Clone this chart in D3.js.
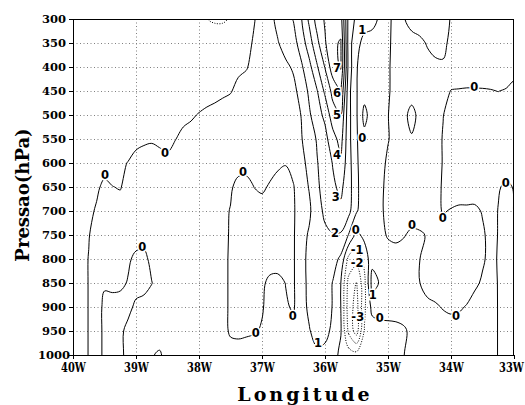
<!DOCTYPE html>
<html><head><meta charset="utf-8">
<script src="https://cdn.jsdelivr.net/npm/d3@7"></script>
<style>body{margin:0;background:#fff}svg{display:block}</style>
</head><body>
<svg id="c" width="525" height="405"></svg>
<script>
// ---------- data ----------
const lonFirst = -40, lonLast = -33;           // grid columns every 0.125 deg
const pressureLevels = [300,350,400,450,500,550,600,650,700,750,800,850,900,950,1000];
const p300 = [-0.45,-0.5,-0.5,-0.5,-0.5,-0.5,-0.5,-0.55,-0.6,-0.6,-0.65,-0.65,-0.7,-0.7,-0.75,-0.8,-0.85,-0.98,-1.15,-1.15,-0.9,-0.6,-0.3,-0.05,0.37,0.78,1.2,1.6,2.05,2.95,4.2,5.4,6.1,6.4,6.5,2.6,1.8,1.3,1.2,0.9,0.2,-0.3,-0.05,0.3,0.35,0.35,0.35,0.3,-0.05,-0.3,-0.3,-0.3,-0.3,-0.3,-0.3,-0.3,-0.3];
const p350 = [-0.45,-0.5,-0.5,-0.5,-0.5,-0.5,-0.5,-0.5,-0.5,-0.5,-0.5,-0.55,-0.55,-0.55,-0.55,-0.55,-0.5,-0.45,-0.3,-0.3,-0.4,-0.35,-0.25,0.1,0.45,0.75,0.95,1.3,1.65,2.45,3.55,4.75,5.9,6.8,7.1,2.5,1.2,0.8,0.75,0.6,0.15,-0.3,-0.4,-0.3,-0.15,0.05,0.15,0.1,-0.1,-0.3,-0.3,-0.3,-0.3,-0.3,-0.3,-0.3,-0.3];
const p400 = [-0.45,-0.5,-0.5,-0.5,-0.5,-0.5,-0.5,-0.5,-0.5,-0.5,-0.5,-0.5,-0.5,-0.5,-0.5,-0.5,-0.45,-0.4,-0.35,-0.3,-0.25,-0.15,-0.05,0.2,0.35,0.5,0.65,0.85,1.1,1.85,2.7,3.9,5.05,6.6,7.1,2.6,1.05,0.6,0.5,0.5,0.1,-0.3,-0.4,-0.4,-0.4,-0.2,-0.1,-0.05,-0.4,-0.4,-0.4,-0.4,-0.4,-0.4,-0.4,-0.4,-0.4];
const p450 = [-0.5,-0.5,-0.5,-0.5,-0.5,-0.5,-0.5,-0.5,-0.5,-0.5,-0.5,-0.5,-0.5,-0.5,-0.5,-0.5,-0.45,-0.4,-0.3,-0.15,-0.05,0.2,0.3,0.4,0.45,0.55,0.6,0.7,0.8,1.3,2.2,2.95,4.2,5.3,6.05,2.3,1.05,0.4,0.5,0.5,0.1,-0.3,-0.4,-0.5,-0.4,-0.4,-0.35,-0.2,0.02,0.04,0.06,0.06,0.05,0.03,-0.01,0.05,0.3];
const p500 = [-0.5,-0.5,-0.5,-0.5,-0.5,-0.5,-0.5,-0.5,-0.5,-0.5,-0.5,-0.5,-0.45,-0.4,-0.2,-0.1,0.05,0.2,0.3,0.35,0.4,0.45,0.5,0.5,0.55,0.6,0.65,0.7,0.75,1.02,1.85,2.65,3.2,4.6,4.98,2.3,1.1,-0.3,0.5,0.4,0.02,-0.35,-0.3,0.35,-0.3,-0.3,-0.2,-0.02,0.3,0.35,0.4,0.4,0.4,0.4,0.35,0.4,0.5];
const p550 = [-0.4,-0.45,-0.45,-0.45,-0.45,-0.45,-0.45,-0.4,-0.3,-0.15,-0.1,-0.2,-0.3,-0.02,0.2,0.3,0.35,0.4,0.45,0.5,0.5,0.5,0.5,0.5,0.55,0.55,0.6,0.65,0.8,0.95,1.45,2.1,2.7,3.6,4.4,2.3,1.1,0.3,0.45,0.4,0.05,-0.3,-0.4,-0.1,-0.4,-0.4,-0.3,0.05,0.35,0.4,0.4,0.45,0.45,0.4,0.35,0.4,0.5];
const p600 = [-0.4,-0.4,-0.4,-0.4,-0.4,-0.4,-0.15,0.03,0.35,0.4,0.45,0.35,0.25,0.4,0.45,0.45,0.45,0.45,0.45,0.45,0.45,0.45,0.45,0.45,0.45,0.35,0.2,0.05,0.3,0.8,1.2,1.95,2.5,3.05,3.8,2.4,1.15,0.4,0.45,0.3,-0.15,-0.4,-0.4,-0.4,-0.4,-0.4,-0.35,0.05,0.4,0.45,0.45,0.45,0.4,0.35,0.3,0.3,0.4];
const p650 = [-0.4,-0.35,-0.3,-0.15,0.2,0.02,-0.05,0.3,0.35,0.4,0.4,0.4,0.4,0.4,0.4,0.4,0.4,0.4,0.4,0.4,0.15,-0.35,-0.4,0.01,0.15,-0.1,-0.4,-0.4,-0.05,0.6,1.05,1.85,2.35,2.85,3.2,2.45,1.2,0.45,0.45,0.25,-0.3,-0.4,-0.4,-0.4,-0.4,-0.4,-0.3,0.1,0.4,0.45,0.45,0.4,0.35,0.3,0.05,-0.1,0.03];
const p700 = [-0.4,-0.3,-0.2,0.1,0.3,0.35,0.35,0.4,0.4,0.4,0.4,0.4,0.4,0.4,0.4,0.4,0.4,0.4,0.4,0.25,-0.05,-0.4,-0.4,-0.4,-0.4,-0.4,-0.4,-0.4,-0.1,0.5,0.85,1.6,2.2,2.6,2.8,2.3,1.1,0.45,0.45,0.2,-0.3,-0.4,-0.4,-0.4,-0.4,-0.4,-0.2,0.05,-0.05,-0.15,-0.15,-0.15,0.05,0.25,-0.02,-0.3,0.02];
const p750 = [-0.4,-0.2,-0.03,0.25,0.3,0.35,0.35,0.35,0.3,0.3,0.35,0.35,0.35,0.35,0.35,0.35,0.35,0.35,0.35,0.3,-0.1,-0.4,-0.4,-0.4,-0.4,-0.4,-0.4,-0.4,-0.1,0.7,1.1,1.5,1.8,1.95,1.9,0.95,-0.3,0.3,0.45,0.3,-0.1,-0.2,-0.05,0.15,0.1,-0.05,-0.3,-0.3,-0.3,-0.3,-0.3,-0.3,-0.1,0.2,-0.02,-0.4,0.02];
const p800 = [-0.4,-0.2,0.02,0.3,0.35,0.35,0.3,0.1,-0.15,-0.2,0.2,0.35,0.4,0.4,0.4,0.4,0.4,0.4,0.4,0.3,-0.15,-0.4,-0.4,-0.4,-0.4,-0.4,-0.4,-0.4,-0.1,0.75,1.2,1.5,1.55,1.4,0.8,-1.3,-1.6,-0.7,0.7,0.6,0.5,0.4,0.35,0.3,0.02,-0.3,-0.4,-0.4,-0.4,-0.4,-0.4,-0.4,-0.1,0.2,-0.05,-0.4,0.02];
const p850 = [-0.4,-0.2,0.02,0.2,0.05,0.2,0.15,-0.05,-0.3,-0.3,-0.02,0.3,0.4,0.4,0.4,0.4,0.4,0.4,0.4,0.3,-0.15,-0.4,-0.4,-0.3,-0.15,0.2,0.25,-0.02,-0.1,0.7,1.2,1.5,1.5,0.95,0.02,-2.3,-3.05,-1.3,1.4,0.9,0.5,0.45,0.4,0.35,0.02,-0.3,-0.4,-0.4,-0.4,-0.4,-0.4,-0.15,0.1,0.25,-0.03,-0.4,0.01];
const p900 = [-0.4,-0.2,0.02,0.2,-0.1,-0.3,-0.3,-0.2,0.15,0.3,0.35,0.4,0.4,0.4,0.4,0.4,0.4,0.4,0.4,0.3,-0.15,-0.4,-0.35,-0.25,-0.05,0.2,0.3,0.1,-0.1,0.7,1.15,1.5,1.4,0.95,0.02,-2.5,-3.4,-1.2,0.3,0.4,0.4,0.4,0.35,0.35,0.3,0.2,0.1,-0.05,-0.15,-0.1,0.05,0.3,0.3,0.3,-0.03,-0.4,0.01];
const p950 = [-0.4,-0.2,0.02,0.2,-0.1,-0.3,-0.15,0.2,0.3,0.35,0.4,0.4,0.35,0.35,0.35,0.35,0.35,0.35,0.35,0.25,-0.1,-0.15,-0.1,-0.05,0.05,0.35,0.4,0.4,0.3,0.6,0.95,1.3,1.2,0.85,0.1,-2.2,-3.5,-0.95,-0.5,-0.35,-0.3,-0.25,-0.1,0.15,0.3,0.35,0.35,0.35,0.35,0.35,0.35,0.35,0.35,0.3,-0.03,-0.4,0.01];
const p1000 = [-0.4,-0.2,0.02,0.2,-0.1,-0.3,-0.15,0.2,0.3,0.3,0.05,-0.1,0.3,0.35,0.35,0.35,0.35,0.35,0.35,0.35,0.3,0.3,0.3,0.3,0.35,0.4,0.4,0.45,0.5,0.6,0.75,0.85,0.8,0.5,-0.3,-0.5,-0.6,-0.6,-0.4,-0.3,-0.3,-0.2,-0.02,0.3,0.35,0.35,0.35,0.35,0.35,0.35,0.35,0.35,0.35,0.3,-0.03,-0.4,0.01];
const grid = [p300,p350,p400,p450,p500,p550,p600,p650,p700,p750,p800,p850,p900,p950,p1000];

const contourLevels = [-3,-2,-1,0,1,2,3,4,5,6,7];
const xTickValues = [-40,-39,-38,-37,-36,-35,-34,-33];
const xTickLabels = ["40W","39W","38W","37W","36W","35W","34W","33W"];
const yTickValues = [300,350,400,450,500,550,600,650,700,750,800,850,900,950,1000];

const labLon = [-39.49,-38.54,-38.90,-37.30,-37.10,-36.51,-36.11,-35.84,-35.83,-35.81,-35.81,-35.81,-35.81,-35.41,-35.41,-35.51,-35.49,-35.49,-35.48,-35.24,-35.13,-34.62,-34.13,-33.92,-33.63,-33.13];
const labP   = [625,579,775,619,954,919,975,746,671,583,500,454,402,323,548,740,781,808,921,875,923,729,715,919,442,642];
const labTxt = ["0","0","0","0","0","0","1","2","3","4","5","6","7","1","0","0","-1","-2","-3","1","0","0","0","0","0","0"];

// ---------- drawing ----------
const svg = d3.select("#c");
const L = 73, R = 514, T = 19, B = 355;
const x = d3.scaleLinear().domain([lonFirst, lonLast]).range([L, R]);
const y = d3.scaleLinear().domain([300, 1000]).range([T, B]);

svg.append("defs").append("clipPath").attr("id","clip")
  .append("rect").attr("x",L).attr("y",T).attr("width",R-L).attr("height",B-T);

// dotted grid
const gg = svg.append("g").attr("stroke","#808080").attr("stroke-width",1).attr("stroke-dasharray","1,2.5");
gg.selectAll("line.v").data(xTickValues.slice(1,-1)).join("line").attr("class","v")
  .attr("x1",d=>Math.round(x(d))+0.5).attr("x2",d=>Math.round(x(d))+0.5).attr("y1",T).attr("y2",B);
gg.selectAll("line.h").data(yTickValues.slice(1,-1)).join("line").attr("class","h")
  .attr("y1",d=>Math.round(y(d))+0.5).attr("y2",d=>Math.round(y(d))+0.5).attr("x1",L).attr("x2",R);

// contours
const nx = grid[0].length, ny = grid.length, NX = nx+2, NY = ny+2;
const flat = new Array(NX*NY);
for (let j=0;j<NY;j++) for (let i=0;i<NX;i++) {
  const jj = Math.max(0, Math.min(ny-1, j-1)), ii = Math.max(0, Math.min(nx-1, i-1));
  flat[j*NX+i] = grid[jj][ii];
}
const iToLon = d3.scaleLinear().domain([0, nx-1]).range([lonFirst, lonLast]);
const jToP = d3.scaleLinear().domain([0, ny-1]).range([pressureLevels[0], pressureLevels[ny-1]]);
const proj = ([cx,cy]) => [x(iToLon(cx-1.5)), y(jToP(cy-1.5))];
const lineGen = d3.line().curve(d3.curveCatmullRomClosed.alpha(0.5));
const contours = d3.contours().size([NX,NY]).thresholds(contourLevels)(flat);
const cg = svg.append("g").attr("clip-path","url(#clip)").attr("fill","none").attr("stroke","#000");
contours.forEach(c => {
  const rings = [];
  c.coordinates.forEach(poly => poly.forEach(r => rings.push(r)));
  const d = rings.map(r => lineGen(r.slice(0,-1).map(proj))).join("");
  if (!d) return;
  cg.append("path").attr("d", d).attr("stroke-width", 1)
    .attr("stroke-dasharray", c.value < 0 ? "1,1.5" : null);
});

// frame
svg.append("rect").attr("x",L+0.5).attr("y",T+0.5).attr("width",R-L-1).attr("height",B-T)
  .attr("fill","none").attr("stroke","#000").attr("stroke-width",1);

// axes
const font = "'DejaVu Serif', serif";
const sx = 0.76;
const ax = svg.append("g").attr("transform",`translate(0,${B})`)
  .call(d3.axisBottom(x).tickValues(xTickValues).tickSize(4).tickFormat((d,i)=>xTickLabels[i]));
ax.select(".domain").remove();
ax.selectAll("text").attr("font-family",font).attr("font-weight","bold").attr("font-size",13)
  .attr("dy","0.8em").attr("fill","#000").attr("transform",`scale(${sx},1)`);
ax.selectAll("text").filter((d,i,n)=>i===n.length-1).attr("x",-3/sx);
const ay = svg.append("g").attr("transform",`translate(${L},0)`)
  .call(d3.axisLeft(y).tickValues(yTickValues).tickSize(4).tickFormat(d=>d));
ay.select(".domain").remove();
ay.selectAll("text").attr("font-family",font).attr("font-weight","bold").attr("font-size",11.5)
  .attr("fill","#000").attr("x",-(L-54)).attr("text-anchor","middle");

// contour labels
svg.append("g").selectAll("text").data(labTxt).join("text")
  .attr("x",(d,i)=>x(labLon[i])).attr("y",(d,i)=>y(labP[i])).attr("dy","0.36em")
  .attr("text-anchor","middle").attr("font-family","'DejaVu Sans', sans-serif").attr("font-weight","bold")
  .attr("font-size",11.5).attr("fill","#000").attr("stroke","#fff").attr("stroke-width",3)
  .attr("paint-order","stroke").text(d=>d);

// titles
svg.append("text").attr("x",305).attr("y",401).attr("text-anchor","middle")
  .attr("font-family",font).attr("font-weight","bold").attr("font-size",19).attr("letter-spacing",3)
  .text("Longitude");
svg.append("text").attr("transform","translate(29,195) rotate(-90)").attr("text-anchor","middle")
  .attr("font-family",font).attr("font-weight","bold").attr("font-size",18).attr("letter-spacing",0)
  .text("Pressao(hPa)");
</script>
</body></html>
